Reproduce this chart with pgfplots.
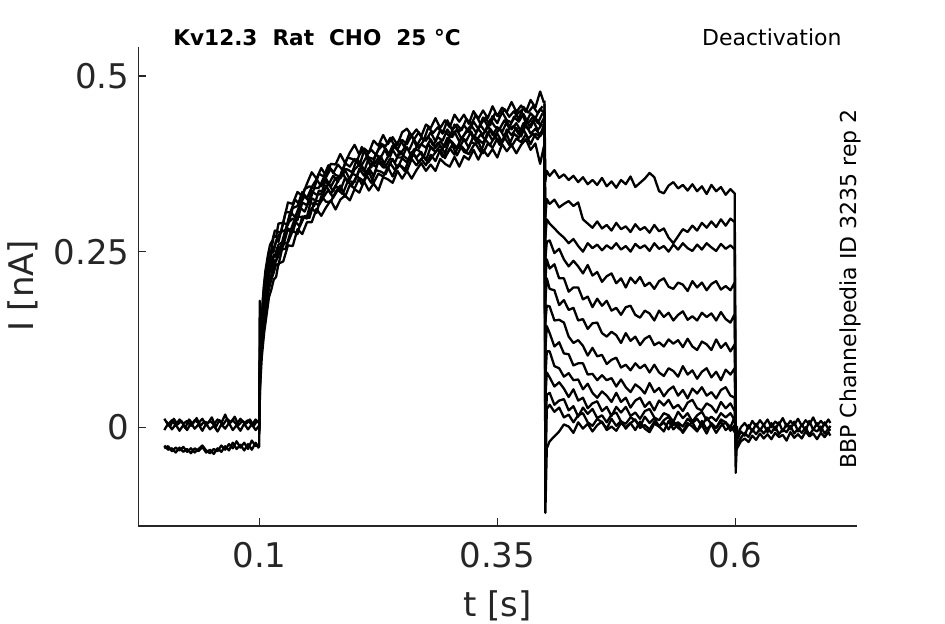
\documentclass[border=0pt]{standalone}
\usepackage{fontspec}
\setmainfont{DejaVu Sans}
\usepackage{pgfplots}
\usepackage{pgfplotstable}
\pgfplotsset{compat=1.18}
\definecolor{axgray}{RGB}{38,38,38}

\pgfplotstableread[row sep=\\]{
t B1 B2 B3 B4\\
0 .012 -.004 -.026 -.030\\
.004 .004 .005 -.032 -.027\\
.008 .010 -.003 -.030 -.034\\
.012 .003 .004 -.036 -.029\\
.016 .011 -.005 -.029 -.033\\
.020 .005 .003 -.035 -.028\\
.024 .009 -.004 -.031 -.035\\
.028 .002 .006 -.037 -.030\\
.032 .010 -.002 -.030 -.036\\
.036 .006 .004 -.034 -.031\\
.040 .012 -.005 -.028 -.026\\
.044 .003 .005 -.036 -.033\\
.048 .009 -.003 -.032 -.037\\
.052 .004 .002 -.038 -.031\\
.056 .011 -.006 -.030 -.034\\
.060 .006 .004 -.035 -.026\\
.064 .018 -.002 -.027 -.032\\
.068 .005 .006 -.033 -.024\\
.072 .010 -.004 -.022 -.030\\
.076 .004 .003 -.031 -.020\\
.080 .012 -.005 -.025 -.029\\
.084 .006 .005 -.033 -.022\\
.088 .010 -.003 -.024 -.031\\
.092 .003 .004 -.032 -.019\\
.096 .011 -.004 -.022 -.027\\
.0995 .006 .002 -.030 -.024\\
}\basetab

\pgfplotstableread[row sep=\\]{
t B5\\
.002 .008\\ .006 .001\\ .010 .012\\ .014 .004\\ .018 .009\\ .022 -.001\\ .026 .011\\
.030 .005\\ .034 .013\\ .038 .002\\ .042 .008\\ .046 .006\\ .050 .014\\ .054 .000\\
.058 .010\\ .062 .004\\ .066 .012\\ .070 .007\\ .074 .015\\ .078 .003\\ .082 .009\\
.086 .005\\ .090 .011\\ .094 .002\\ .098 .010\\
}\basetabb

\pgfplotstableread[row sep=\\]{
t A1 A2 A3 A4 A5 A6\\
0.0998 .006 .002 .000 .004 .008 -.028\\
0.1003 .180 .110 .090 .080 .075 .050\\
0.1008 .105 .118 .100 .090 .082 .060\\
0.1025 .160 .150 .135 .125 .115 .100\\
0.105 .205 .182 .168 .160 .150 .135\\
0.1075 .228 .215 .198 .186 .178 .160\\
0.110 .250 .228 .222 .212 .197 .185\\
0.1125 .252 .248 .228 .215 .210 .196\\
0.115 .272 .250 .246 .238 .220 .210\\
0.1175 .271 .266 .245 .236 .232 .214\\
0.120 .290 .264 .260 .253 .231 .233\\
0.125 .291 .291 .264 .258 .261 .236\\
0.130 .320 .288 .291 .283 .263 .259\\
0.135 .318 .312 .297 .278 .280 .258\\
0.140 .335 .315 .295 .300 .275 .282\\
0.145 .329 .335 .320 .299 .300 .275\\
0.150 .347 .326 .316 .300 .297 .292\\
0.155 .363 .342 .336 .326 .312 .292\\
0.160 .354 .353 .331 .322 .305 .311\\
0.165 .369 .343 .332 .322 .329 .301\\
0.170 .358 .356 .354 .344 .321 .313\\
0.175 .375 .368 .342 .332 .321 .323\\
0.180 .374 .359 .355 .344 .335 .310\\
0.185 .389 .357 .354 .337 .344 .324\\
0.190 .376 .376 .366 .355 .328 .330\\
0.195 .391 .371 .353 .350 .345 .323\\
0.200 .402 .382 .367 .349 .340 .339\\
0.205 .388 .372 .374 .368 .355 .334\\
0.210 .397 .394 .364 .358 .350 .350\\
0.215 .391 .384 .384 .369 .364 .337\\
0.220 .408 .382 .373 .358 .348 .347\\
0.225 .401 .395 .384 .378 .361 .337\\
0.230 .416 .402 .373 .370 .357 .356\\
0.235 .403 .386 .385 .370 .370 .353\\
0.240 .413 .401 .395 .382 .357 .348\\
0.245 .402 .395 .384 .369 .373 .365\\
0.250 .420 .409 .384 .383 .371 .354\\
0.255 .425 .403 .399 .377 .365 .365\\
0.260 .415 .416 .384 .392 .382 .354\\
0.265 .424 .400 .399 .384 .373 .366\\
0.270 .414 .412 .403 .392 .382 .376\\
0.275 .431 .408 .398 .380 .373 .365\\
0.280 .426 .420 .410 .399 .388 .374\\
0.285 .440 .407 .398 .392 .379 .365\\
0.290 .426 .423 .407 .401 .395 .382\\
0.295 .437 .421 .399 .390 .383 .375\\
0.300 .427 .414 .413 .409 .397 .371\\
0.305 .445 .431 .421 .398 .388 .385\\
0.310 .435 .421 .407 .398 .403 .371\\
0.315 .445 .430 .416 .410 .392 .386\\
0.320 .432 .420 .424 .398 .389 .381\\
0.325 .450 .435 .411 .415 .401 .395\\
0.330 .439 .425 .425 .410 .407 .381\\
0.335 .451 .441 .416 .404 .390 .395\\
0.340 .440 .428 .430 .420 .404 .386\\
0.345 .457 .443 .416 .408 .398 .396\\
0.350 .443 .433 .427 .418 .411 .384\\
0.355 .455 .449 .420 .406 .405 .403\\
0.360 .449 .437 .435 .424 .417 .393\\
0.365 .463 .434 .424 .416 .400 .402\\
0.370 .449 .445 .433 .426 .411 .390\\
0.375 .458 .451 .421 .414 .406 .402\\
0.380 .449 .433 .437 .431 .417 .410\\
0.385 .466 .447 .427 .418 .403 .395\\
0.390 .455 .440 .441 .425 .418 .404\\
0.395 .478 .453 .430 .416 .414 .375\\
0.399 .462 .448 .440 .430 .423 .400\\
}\acttab

\pgfplotstableread[row sep=\\]{
t A7 A8 A9 A10\\
0.0999 .010 .004 -.002 -.006\\
0.1010 .120 .105 .095 .085\\
0.1037 .185 .170 .152 .140\\
0.1062 .222 .208 .190 .175\\
0.1087 .243 .226 .212 .198\\
0.1112 .260 .243 .222 .210\\
0.1137 .266 .255 .242 .222\\
0.1162 .280 .258 .242 .235\\
0.1187 .279 .270 .256 .240\\
0.1225 .277 .278 .257 .253\\
0.1275 .306 .281 .282 .254\\
0.1325 .306 .307 .279 .277\\
0.1375 .324 .299 .298 .293\\
0.1425 .317 .317 .313 .286\\
0.1475 .339 .329 .307 .301\\
0.1525 .343 .321 .323 .298\\
0.1575 .340 .340 .315 .320\\
0.1625 .361 .341 .337 .316\\
0.1675 .357 .355 .335 .328\\
0.1725 .373 .345 .347 .338\\
0.1775 .362 .358 .336 .327\\
0.1825 .374 .349 .351 .338\\
0.1875 .366 .368 .362 .332\\
0.1925 .384 .367 .349 .349\\
0.1975 .382 .363 .361 .345\\
0.2025 .378 .382 .358 .359\\
0.2075 .399 .373 .373 .346\\
0.2125 .387 .385 .359 .359\\
0.2175 .395 .370 .375 .348\\
0.2225 .388 .388 .371 .366\\
0.2275 .404 .384 .386 .364\\
0.2325 .400 .397 .371 .360\\
0.2375 .412 .386 .383 .376\\
0.2425 .399 .403 .377 .366\\
0.2475 .410 .388 .393 .374\\
0.2525 .399 .398 .385 .365\\
0.2575 .418 .395 .380 .382\\
0.2625 .410 .410 .396 .388\\
0.2675 .420 .397 .394 .377\\
0.2725 .408 .408 .384 .386\\
0.2775 .427 .414 .403 .377\\
0.2825 .419 .401 .395 .387\\
0.2875 .427 .413 .405 .396\\
0.2925 .418 .408 .396 .385\\
0.2975 .437 .424 .412 .390\\
0.3025 .423 .413 .406 .402\\
0.3075 .431 .424 .398 .387\\
0.3125 .423 .410 .412 .400\\
0.3175 .439 .422 .408 .392\\
0.3225 .431 .430 .421 .406\\
0.3275 .445 .420 .407 .403\\
0.3325 .431 .430 .417 .392\\
0.3375 .441 .420 .409 .409\\
0.3425 .430 .438 .425 .402\\
0.3475 .447 .428 .415 .415\\
0.3525 .442 .425 .426 .402\\
0.3575 .453 .437 .412 .413\\
0.3625 .442 .426 .425 .402\\
0.3675 .450 .442 .429 .418\\
0.3725 .439 .435 .417 .412\\
0.3775 .456 .446 .433 .424\\
0.3825 .448 .433 .424 .411\\
0.3875 .457 .442 .437 .418\\
0.3925 .447 .433 .423 .410\\
0.3975 .457 .447 .432 .423\\
}\acttabb

\pgfplotstableread[row sep=\\]{
t T1 T2 T3 T4 T5 T6 T7 T8 T9 T10 T11 T12 T13\\
0.3995 .465 .450 .440 .430 .420 .445 .435 .425 .450 .410 .440 .430 .460\\
0.4005 .350 .300 .270 .240 .210 .180 .150 .110 .070 .040 -.020 -.080 -.122\\
0.402 .365 .325 .296 .264 .239 .212 .173 .144 .108 .078 .046 .026 -.030\\
0.405 .358 .318 .290 .266 .226 .197 .172 .134 .108 .071 .049 .032 -.020\\
0.410 .366 .324 .283 .248 .232 .195 .152 .115 .087 .058 .032 .022 -.013\\
0.415 .355 .313 .276 .254 .212 .174 .153 .121 .084 .064 .038 .028 -.006\\
0.420 .360 .318 .270 .239 .212 .181 .149 .105 .072 .055 .040 .014 .004\\
0.425 .352 .322 .262 .229 .193 .167 .129 .104 .077 .043 .024 .018 .001\\
0.430 .358 .315 .268 .237 .199 .170 .120 .088 .067 .054 .030 .007 -.008\\
0.435 .349 .320 .258 .229 .199 .152 .124 .091 .068 .038 .015 .017 .007\\
0.440 .356 .296 .250 .219 .182 .154 .116 .091 .054 .042 .028 .020 -.002\\
0.445 .346 .290 .262 .231 .186 .140 .102 .075 .062 .027 .019 .007 .005\\
0.450 .352 .284 .255 .216 .171 .148 .113 .076 .049 .034 .026 .002 -.006\\
0.455 .345 .293 .260 .221 .183 .149 .101 .067 .042 .037 .013 .012 .003\\
0.460 .355 .283 .252 .207 .173 .134 .103 .074 .051 .023 .017 .007 .008\\
0.465 .343 .288 .259 .215 .180 .129 .090 .067 .045 .029 .007 -.002 -.004\\
0.470 .350 .280 .254 .219 .166 .136 .096 .070 .036 .016 .018 .012 .001\\
0.475 .341 .291 .262 .205 .170 .131 .099 .058 .049 .029 .021 .002 -.005\\
0.480 .352 .282 .253 .212 .160 .120 .085 .068 .036 .021 .008 .009 .006\\
0.485 .346 .286 .258 .199 .171 .134 .089 .057 .042 .029 .005 -.002 .000\\
0.490 .357 .278 .250 .213 .173 .123 .081 .050 .028 .016 .014 .006 .006\\
0.495 .342 .289 .261 .205 .160 .129 .091 .061 .038 .021 .010 .011 -.004\\
0.500 .348 .281 .255 .214 .156 .117 .084 .056 .042 .012 .001 -.001 .008\\
0.505 .354 .285 .259 .201 .166 .126 .089 .048 .029 .023 .015 .003 -.002\\
0.510 .362 .277 .251 .206 .162 .130 .078 .063 .036 .026 .006 -.003 -.007\\
0.515 .356 .288 .262 .197 .152 .117 .089 .050 .024 .014 .013 .008 .005\\
0.520 .336 .279 .254 .208 .166 .121 .078 .056 .038 .010 .001 .001 .001\\
0.525 .333 .283 .258 .212 .157 .115 .073 .044 .031 .020 .010 .007 -.006\\
0.530 .344 .270 .250 .200 .163 .125 .084 .053 .039 .017 .015 -.003 .009\\
0.535 .349 .262 .260 .197 .152 .119 .080 .058 .027 .008 .003 .009 -.003\\
0.540 .340 .272 .253 .206 .160 .124 .072 .045 .032 .022 .007 -.001 .004\\
0.545 .345 .282 .262 .203 .165 .114 .087 .053 .023 .013 .001 -.006 -.008\\
0.550 .337 .278 .255 .194 .153 .126 .075 .041 .035 .020 .012 .006 .002\\
0.555 .346 .287 .251 .208 .158 .115 .081 .055 .039 .008 .006 .001 .007\\
0.560 .336 .280 .260 .199 .152 .110 .069 .048 .027 .017 .012 -.006 -.005\\
0.565 .343 .291 .253 .206 .163 .122 .079 .057 .024 .022 .002 .009 .003\\
0.570 .332 .284 .262 .195 .157 .118 .084 .045 .034 .010 .014 -.003 -.009\\
0.575 .345 .293 .256 .204 .162 .110 .071 .050 .030 .015 .004 .004 .006\\
0.580 .336 .285 .251 .208 .152 .125 .079 .041 .021 .009 -.001 -.008 -.001\\
0.585 .342 .296 .261 .196 .164 .113 .067 .053 .036 .020 .011 .002 .008\\
0.590 .331 .287 .254 .201 .154 .120 .082 .057 .027 .014 .007 .007 -.004\\
0.595 .339 .297 .259 .195 .149 .108 .075 .045 .034 .020 .000 -.005 .002\\
0.5995 .333 .292 .253 .206 .161 .118 .084 .042 .023 .010 .015 .003 -.007\\
0.6005 -.065 -.040 -.030 -.025 -.020 -.020 -.015 -.015 -.012 -.010 -.010 -.008 -.008\\
0.602 -.015 -.010 -.008 -.006 -.005 -.004 -.003 -.002 -.002 -.001 .000 .000 .002\\
}\tailtab

\pgfplotstableread[row sep=\\]{
t P1 P2 P3 P4\\
.602 -.012 -.025 -.018 -.030\\
.606 .000 -.015 -.006 -.020\\
.610 .006 -.008 -.012 -.016\\
.614 -.002 -.014 .003 -.021\\
.618 .009 -.003 -.006 -.012\\
.622 .001 -.010 .005 -.018\\
.626 .010 -.002 -.005 -.009\\
.630 .003 -.009 .004 -.016\\
.634 .011 -.001 -.007 -.010\\
.638 .000 -.008 .006 -.017\\
.642 .008 .001 -.004 -.008\\
.646 .004 -.010 .007 -.014\\
.650 .013 -.003 -.006 -.011\\
.654 .001 -.007 .005 -.019\\
.658 .009 .002 -.003 -.007\\
.662 .003 -.009 .008 -.015\\
.666 .012 -.002 -.006 -.010\\
.670 .002 -.008 .004 -.016\\
.674 .010 .000 -.005 -.006\\
.678 .004 -.011 .009 -.013\\
.682 .014 -.003 -.004 -.009\\
.686 .002 -.006 .006 -.017\\
.690 .009 .001 -.006 -.008\\
.694 .003 -.009 .007 -.014\\
.698 .011 -.002 -.003 -.007\\
.700 .006 -.005 .002 -.012\\
}\posttab

\begin{document}
\begin{tikzpicture}
\useasboundingbox (-69.15pt,-49pt) rectangle (403.35pt,263pt);
\begin{axis}[
  at={(0,0)}, anchor=south west,
  scale only axis, width=359.2pt, height=239.65pt,
  xmin=-0.0273, xmax=0.7277, ymin=-0.1406, ymax=0.5418,
  axis x line*=bottom, axis y line*=left,
  axis line style={draw=axgray, line width=0.6pt, -},
  tick align=inside, major tick length=4pt,
  tick style={draw=axgray, line width=0.6pt},
  xtick={0.1,0.35,0.6}, xticklabels={0.1,0.35,0.6},
  ytick={0,0.25,0.5}, yticklabels={0,0.25,0.5},
  /pgf/number format/assume math mode=true,
  ticklabel style={font=\fontsize{17}{20}\selectfont, text=axgray},
  xticklabel style={yshift=-4.8pt},
  yticklabel style={xshift=-0.9pt},
  xlabel={t [s]}, ylabel={I [nA]},
  label style={font=\fontsize{17}{20}\selectfont, text=axgray},
  xlabel style={at={(axis description cs:0.5,-0.1656)}, anchor=center},
  ylabel style={at={(axis description cs:-0.161,0.501)}, anchor=center},
  clip=false,
]
\pgfplotsset{trace/.style={black, line width=1.15pt, line join=round, mark=none}}
\pgfplotsinvokeforeach{1,2,3,4}{\addplot[trace] table[x=t,y=B#1]{\basetab};}
\addplot[trace] table[x=t,y=B5]{\basetabb};
\pgfplotsinvokeforeach{1,2,3,4,5,6}{\addplot[trace] table[x=t,y=A#1]{\acttab};}
\pgfplotsinvokeforeach{7,8,9,10}{\addplot[trace] table[x=t,y=A#1]{\acttabb};}
\pgfplotsinvokeforeach{1,2,3,4,5,6,7,8,9,10,11,12,13}{\addplot[trace] table[x=t,y=T#1]{\tailtab};}
\pgfplotsinvokeforeach{1,2,3,4}{\addplot[trace] table[x=t,y=P#1]{\posttab};}
\node[anchor=base west, inner sep=0pt, font=\fontsize{10.8}{13}\selectfont\bfseries] at (rel axis cs:0.0483,1.0015) {Kv12.3\ \ Rat\ \ CHO\ \ 25 °C};
\node[anchor=base east, inner sep=0pt, font=\fontsize{11}{13}\selectfont] at (rel axis cs:0.9795,1.0015) {Deactivation};
\node[anchor=base west, rotate=90, inner sep=0pt, font=\fontsize{11}{13}\selectfont] at (rel axis cs:1.0004,0.1189) {BBP Channelpedia ID 3235 rep 2};
\end{axis}
\end{tikzpicture}
\end{document}
